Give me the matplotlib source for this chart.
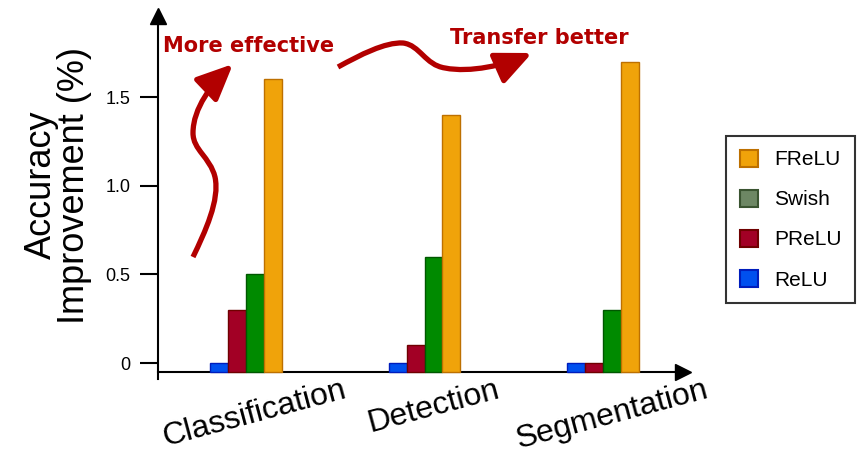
import numpy as np
import matplotlib.pyplot as plt
from matplotlib.patches import Patch, FancyArrowPatch, ArrowStyle
from matplotlib.path import Path

plt.rcParams['font.family'] = ['Liberation Sans', 'DejaVu Sans']

# data
tasks = ['Classification', 'Detection', 'Segmentation']
relu = [0.0, 0.0, 0.0]
prelu = [0.3, 0.1, 0.0]
swish = [0.5, 0.6, 0.3]
frelu = [1.6, 1.4, 1.7]
y_ticks = [0, 0.5, 1.0, 1.5]
y_tick_labels = ['0', '0.5', '1.0', '1.5']

base = -0.05  # bars start on the x axis line

W, H = 860, 454
fig = plt.figure(figsize=(W / 100, H / 100), dpi=100)
ax = fig.add_axes([158 / W, 1 - 379 / H, (683 - 158) / W, (379 - 16) / H])

x = np.arange(len(tasks))
bw = 0.1
series = [
    (relu, '#0050EF', '#001DBC'),
    (prelu, '#A20025', '#6F0000'),
    (swish, '#008A00', '#005700'),
    (frelu, '#F0A30A', '#BD7000'),
]
for k, (vals, fc, ec) in enumerate(series):
    h = np.array(vals) - base
    ax.bar(x + (k - 1.5) * bw, h, bw, bottom=base, color=fc, edgecolor=ec, linewidth=1.0, zorder=3)

ax.set_xlim(-0.493, 2.448)
ax.set_ylim(-0.09, 1.957)

# axes with arrow heads
for s in ['top', 'right']:
    ax.spines[s].set_visible(False)
ax.spines['bottom'].set_position(('data', base))
ax.spines['left'].set_linewidth(1.5)
ax.spines['bottom'].set_linewidth(1.5)
ax.plot(1, base, marker='>', color='k', markersize=11, clip_on=False, transform=ax.get_yaxis_transform())
ax.plot(0, 1, marker='^', color='k', markersize=11, clip_on=False, transform=ax.transAxes)

ax.set_yticks(y_ticks)
ax.set_yticklabels(y_tick_labels)
ax.tick_params(axis='y', direction='out', length=13, width=1.5, labelsize=13, pad=7)

ax.set_xticks(x + 0.05)
ax.set_xticklabels(tasks, rotation=15, fontsize=23)
ax.tick_params(axis='x', length=0, pad=2)

fig.text(58 / W, 1 - 185 / H, 'Accuracy\nImprovement (%)', rotation=90, fontsize=26,
         ha='center', va='center', multialignment='center', linespacing=0.95)

# legend (Swish patch uses the grey-green from the original figure)
handles = [
    Patch(facecolor='#F0A30A', edgecolor='#BD7000', linewidth=1.5, label='FReLU'),
    Patch(facecolor='#6D8764', edgecolor='#3A5431', linewidth=1.5, label='Swish'),
    Patch(facecolor='#A20025', edgecolor='#6F0000', linewidth=1.5, label='PReLU'),
    Patch(facecolor='#0050EF', edgecolor='#001DBC', linewidth=1.5, label='ReLU'),
]
leg = fig.legend(handles=handles, loc='upper left', bbox_to_anchor=(726 / W, 1 - 136 / H),
                 fontsize=15, frameon=True, fancybox=False, edgecolor='black',
                 handlelength=0.9, handleheight=0.9, handletextpad=0.75,
                 labelspacing=0.97, borderpad=0.65, borderaxespad=0)
leg.get_frame().set_linewidth(1.5)


# curvy red arrows, given in pixel coords of the picture
def px(p):
    return (p[0] / W, 1 - p[1] / H)


def curve(pts):
    codes = [Path.MOVETO] + [Path.CURVE4] * (len(pts) - 1)
    return Path([px(p) for p in pts], codes)


red = '#B20000'
style = ArrowStyle('-|>', head_length=1.0, head_width=0.45)
arrow1 = curve([(193, 257), (205, 232), (220, 200), (215, 177),
                (210, 157), (193, 150), (193, 133),
                (193, 108), (212, 84), (233, 64)])
arrow2 = curve([(338, 67), (360, 55), (385, 42), (403, 43),
                (420, 45), (425, 65), (445, 68),
                (470, 73), (505, 65), (532, 53)])
for p in [arrow1, arrow2]:
    fig.add_artist(FancyArrowPatch(path=p, arrowstyle=style, mutation_scale=22,
                                   transform=fig.transFigure, facecolor=red, edgecolor=red,
                                   linewidth=3.8, capstyle='butt'))

fig.text(163 / W, 1 - 46 / H, 'More effective', color=red, fontsize=15, fontweight='bold',
         family='DejaVu Sans', ha='left', va='center')
fig.text(450 / W, 1 - 38 / H, 'Transfer better', color=red, fontsize=15, fontweight='bold',
         family='DejaVu Sans', ha='left', va='center')

fig.savefig('out.png', dpi=100)
